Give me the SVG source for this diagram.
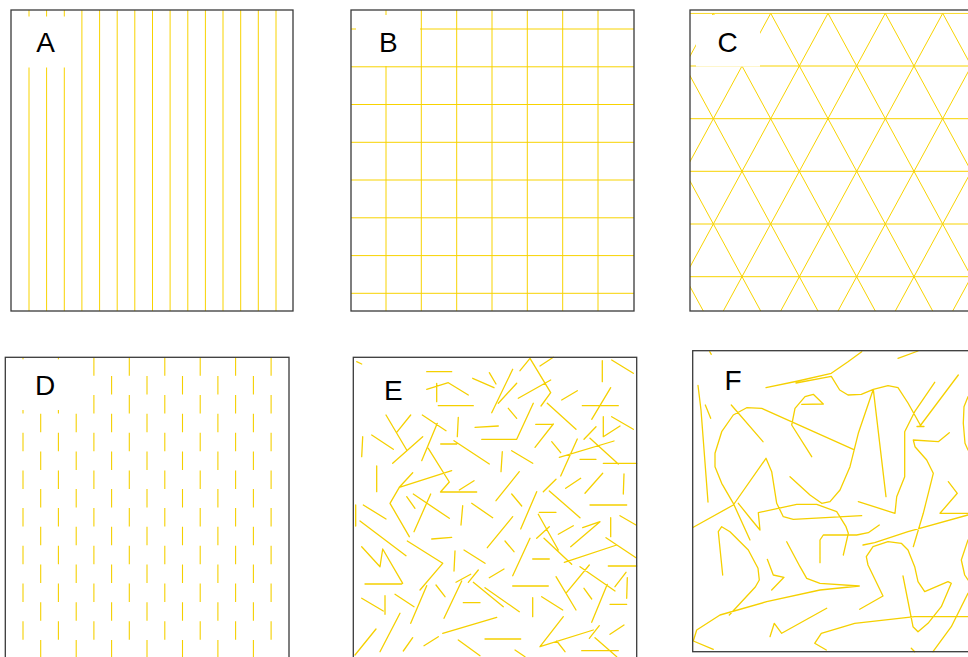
<svg xmlns="http://www.w3.org/2000/svg" width="968" height="657" viewBox="0 0 968 657">
<style>
.bg{fill:#fff;stroke:none}
.frame{fill:none;stroke:#3a3a3a;stroke-width:1.3}
.y{stroke:#F8D300;stroke-width:1;fill:none}
.yl{stroke:#F5D000;stroke-width:1.3;fill:none;stroke-linecap:round;stroke-linejoin:round}
.dash{stroke:#F5D000;stroke-width:1.1;stroke-dasharray:18.5 19.2;fill:none}
.lab{font-family:"Liberation Sans",Arial,sans-serif;font-size:28px;fill:#000;text-anchor:middle}
.mask{fill:#fff;stroke:none}
</style>
<defs>
<clipPath id="clipC"><rect x="690" y="12.8" width="290" height="298.2"/></clipPath>
<clipPath id="clipD"><rect x="5.3" y="357.3" width="283.7" height="300"/></clipPath>
</defs>
<rect width="968" height="657" fill="#fff"/>

<g id="panelA">
<rect class="bg" x="11" y="10" width="282" height="301"/>
<path class="y" d="M29 10V311M46.6 10V311M64.3 10V311M81.9 10V311M99.6 10V311M117.2 10V311M134.8 10V311M152.5 10V311M170.1 10V311M187.8 10V311M205.4 10V311M223 10V311M240.7 10V311M258.3 10V311M276 10V311"/>
<rect class="mask" x="16" y="16.5" width="63" height="51"/>
<text class="lab" x="45.5" y="52">A</text>
<rect class="frame" x="11" y="10" width="282" height="301"/>
</g>

<g id="panelB">
<rect class="bg" x="351" y="10" width="283" height="301"/>
<path class="y" d="M386 10V311M421.3 10V311M456.7 10V311M492 10V311M527.3 10V311M562.7 10V311M598 10V311M351 29H634M351 66.8H634M351 104.5H634M351 142.3H634M351 180H634M351 217.8H634M351 255.6H634M351 293.3H634"/>
<rect class="mask" x="356" y="15" width="64" height="51"/>
<text class="lab" x="388.3" y="51.5">B</text>
<rect class="frame" x="351" y="10" width="283" height="301"/>
</g>

<g id="panelC">
<rect class="bg" x="690" y="10" width="290" height="301"/>
<g clip-path="url(#clipC)">
<path class="y" d="M690 13.3H968M690 66H968M690 118.7H968M690 171.3H968M690 224H968M690 276.7H968
M541.3 13.3L703.3 311M598.7 13.3L760.7 311M656 13.3L818 311M713.3 13.3L875.3 311M770.7 13.3L932.7 311M828 13.3L990 311M885.3 13.3L1047.3 311M942.7 13.3L1104.7 311
M713.3 13.3L551.3 311M770.7 13.3L608.7 311M828 13.3L666 311M885.3 13.3L723.3 311M942.7 13.3L780.7 311M1000 13.3L838 311M1057.3 13.3L895.3 311M1114.7 13.3L952.7 311"/>
</g>
<rect class="mask" x="696" y="15" width="64" height="51.6"/>
<text class="lab" x="727.5" y="51.7">C</text>
<rect class="frame" x="690" y="10" width="290" height="301"/>
</g>

<g id="panelD">
<rect class="bg" x="5.3" y="357.3" width="283.7" height="310"/>
<g clip-path="url(#clipD)">
<path class="dash" d="M23 357.3V660M58.4 357.3V660M93.9 357.3V660M129.3 357.3V660M164.8 357.3V660M200.2 357.3V660M235.6 357.3V660M271.1 357.3V660"/>
<path class="dash" d="M40.7 376V660M76.2 376V660M111.6 376V660M147 376V660M182.5 376V660M217.9 376V660M253.4 376V660"/>
</g>
<rect class="mask" x="12" y="359.3" width="74" height="50.7"/>
<text class="lab" x="45.2" y="395">D</text>
<rect class="frame" x="5.3" y="357.3" width="283.7" height="310"/>
</g>

<g id="panelE">
<rect class="bg" x="353.3" y="357.3" width="283.4" height="310"/>
<path class="yl" d="M356.7 361.7L361.7 364M426.7 371.7H451.7M426.7 389.3L448.3 382.7L468.3 395M436.7 383.3V401.7M438.3 405.7H473.3M472.7 378.3L494 387.7M489.3 372.7L496 384M512.7 369.3L491.7 412.7M498.3 403.3L516.7 383.3M520 370.7L530 358.3L550.7 392.7L541 406M540 366L553.3 357.3M518.3 398.3L550.7 380M602.3 360.7V381.7M611.7 360L633.3 373.3M561.7 400L577.3 390.7M508.3 408.3L516.7 418.3M547.3 403.3L576 429.3M582.3 405.7H618.3M591.7 419.3L610.7 387.7M603.3 416.7V436.7L620 426M611.7 416.7L633.3 429.3
M386 415L406.7 450M397.3 431.7L410.7 415M371.7 435L393.3 449.3M362.7 436.7L361.7 456.7M392.7 463.3L422.7 436.7M422.3 415L446 430.7M421.7 460.7L437.3 423.3M428.3 448.3L449.3 482L440.5 492H476.7M458.3 417.3L457.3 436.7M475 427.3L498.3 426M481.7 439.3H516.7L533.3 403.3M440.7 444H456.7M454 440.7L489.3 464M502.3 451.7L501 471.7M511.7 450.7L532.7 463.3M535 447.3L553.3 424M535.7 424.3H553.3M551.7 441.7L560.7 452.7M559.3 457.3L614 441M560.7 476L577.3 439M584 439.3L596 426.7M590 438.3L618.3 464M580 459.3H596M603.3 463.3H636.7
M376.7 466V491.7M399.3 487.3L451.7 470.7M399.3 487.3L412.7 472.7M399.3 487.3L390 503.3L409.3 536.7M459.3 490L474 480.7M496 500.7L519.3 471.7M543.3 491.7L556 479.3M565.7 488.3L580.7 478.3M585 493.3L602.7 473.3M624 474L623.3 494M590 505H626.7M549.3 491L580 517.7M406.7 496.7L415 508.3M413.3 494L449.3 518.3M414 531.7L430.7 494M462.7 505.7L461 525M471.7 503.3L492.7 517.7M511.7 494L521.7 506M520.7 529L536.7 491.7M539.3 512.3H556M538.3 514.3L558.3 550M355.7 505V526M363.3 505L386 519
M360 521L406 555.7M431.7 539L451.7 537.3M407.3 541L442.7 563.3M487.3 547.7L512.7 516.7M536.7 538.3L549.3 526.7M544 538.3L571.7 564.3M558.3 534.3L573.3 525.7M582.7 527.7L600 521.7L570.7 546.7M610.7 517.7V536.7M620 515.7L636 525M606 537.7L636 557.7M564.3 562.3L616.7 545M361.7 546.7L380 566.7L382.7 549L402.7 583.3M365 584H401.7M420 590L442.7 563.3M455 551L454 571M464 550L485 563.3M505 541L514 551.7M512.7 575.7L530 538.3M532.7 559H549.3
M456 582.3L470.7 574.3M468.3 582.3L478.3 570M489.3 577.7L504 569M473.3 582.3L503.3 606.7M485 587.7L519.3 611.7M436 585L445 596.7M444 618.3L461.7 581M410.7 623.3L426.7 585.7M361.7 598.3L383.3 611M385 595.7V614.3M395 594.3L414 606.7M463.3 602.7H480M512.7 586H548.3M532.7 597.7V616.7M541.7 596.7L562.7 610M556 576.7L576 610M566.7 592.3L589.3 565M580 566.7L615 591M584 588.3L591.7 599M591.7 622.3L607.3 584.3M615 586.7L626 572.3M627.3 577.7L626.7 598.3M608.3 566H636.7M610 604.3H626.7
M380 651.7L400 613.3M355 655L376 629M403.3 651L412.7 637.7M424 645.7L438.3 636.7M442.7 633.3L496.7 617.3M458.3 640L480 655.7M485 639H520.7M515 650L525 656.7M540 646.7L563.3 616.7M540 646.7L593.3 630M556.7 641L565 651.7M589.3 638.3L599.3 625.7M610 634.3L624 625M581.7 650.7H618.3M595 637.7L616.7 656.7"/>
<text class="lab" x="393.3" y="400">E</text>
<rect class="frame" x="353.3" y="357.3" width="283.4" height="310"/>
</g>

<g id="panelF">
<rect class="bg" x="692.7" y="350.7" width="290" height="301"/>
<path class="yl" d="M709.7 351.7L711.3 354.3
M861.7 351.7L848 361.7L831.3 373.3L798 381L766 387.7
M796 383L831.3 376.3L839.7 390L848 395L861.3 394.3L873.3 389.3L888 385.7L898 387.7L908 403L921.3 426.7L917 426.5H924
M898 358.3L918 351
M698 385.5L701 410L708 502
M705.3 405L710.7 418.3
M731.3 405L763 441.7
M853.3 449.3L761.7 408.3L746.7 407.7L733.3 415L721.7 431.7L715 453.3L715 466.7L721.7 483.3L733.3 503.3L750 540
M811.7 456.7L791.7 425L795 408.3L805 396.7L813.3 394.3L823.3 404L801.7 404.3
M790 476.7L810 495L821.7 503.3L830 501.7L840 490L850 466.7L858.3 433.3L873.3 389.3L886 496.7
M858.3 501.7L895 513.3L896.7 496.7L904.7 476.7L904.7 431.7L914.7 411.7L934.7 382.3
M920 426L958.3 375
M949.3 432.7L938.3 441.7L913.3 440L915 446.7L926.7 460L933.3 473.3L928.3 493.3L923.3 513.3L913.3 546.7
M968 396.7L964 406.7L963.3 423.3L965 443.3L968 450
M948.3 481.7L957.3 493.3L940 513.3H968
M766 458.3L771.7 471.7L776.7 503.3L783.3 516.7L793.3 519.3L861.7 515.7
M766 458.3L733.3 505L693.3 527.3
M738.3 503.3L751.7 520L760 530L758.3 512.7L796.7 504.3L816.7 504.3L836.7 511.7L846 526.7L848.3 533.3L843.3 555
M820 562.7L820 540L823.3 535L856.7 535L868.3 532.7L879.3 525
M722.7 575L718.3 531.7L721.7 526.7L730 531.7L748.3 550L758 568.3L759.3 580L755.3 587L729.3 615
M767.3 559.3L773.3 575L784 577.3L771.7 590
M786.7 541.7L800 566.7L806.7 578.3L820 583.3L859.3 586
M859.3 586L820 590L766.7 601.7L720 615L696.7 630L693.3 641L713.3 649.3
M770 636.7L774.3 623.3L781.7 633.3L826.7 608.3
M859.7 609.3L883 596L868 565L866.3 556.7L873 546.7L888 541.7L901.3 543.3L908 550L914.7 566.7L918 581.7L924.7 591.7L948 581.7L951.3 583.3L941.3 606.7L928 623.3L918 631.7L913 626.7L903 576
M863 545L874.7 542.7L908 531.7L968 515
M968 540L961.3 560L964.7 575L968 580
M968 593.3L951.3 626.7L933 651.7
M968 616.7L914.7 616.7L854.7 623.3L821.3 633.3L814.7 643.3L826.3 650
M911.3 648.3L914.7 651.7"/>
<text class="lab" x="733" y="390">F</text>
<rect class="frame" x="692.7" y="350.7" width="290" height="301"/>
</g>
</svg>
